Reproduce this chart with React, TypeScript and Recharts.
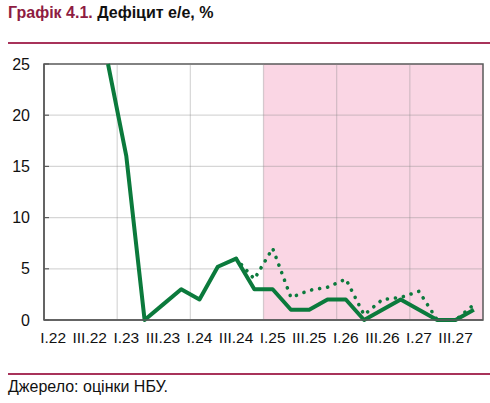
import { LineChart, Line, XAxis, YAxis, ReferenceArea, ReferenceLine } from "recharts";

// quarters I.22 .. IV.27
const quarters = [
  "I.22", "II.22", "III.22", "IV.22",
  "I.23", "II.23", "III.23", "IV.23",
  "I.24", "II.24", "III.24", "IV.24",
  "I.25", "II.25", "III.25", "IV.25",
  "I.26", "II.26", "III.26", "IV.26",
  "I.27", "II.27", "III.27", "IV.27",
];

const baseline = [null, null, null, 25, 16, 0, 1.5, 3, 2, 5.2, 6, 3, 3, 1, 1, 2, 2, 0, 1, 2, 1, 0, 0, 1];
const scenario = [null, null, null, null, null, null, null, null, null, null, 6, 4, 7, 2.2, 2.9, 3.2, 4, 0.5, 2, 2.2, 2.8, 0, 0, 1.5];

const yTicks = [0, 5, 10, 15, 20, 25];
const gridValues = [5, 10, 15, 20];
const yearStarts = [4, 8, 12, 16, 20];
const forecastFrom = 12;

const data = quarters.map((q, i) => ({ x: i + 0.5, q, base: baseline[i], alt: scenario[i] }));
const labelTicks = data.filter((_, i) => i % 2 === 0).map((d) => d.x);

const font = "'Liberation Sans', Arial, sans-serif";
const axisColor = "#5a5a5a";
const green = "#0b7a3c";
const crimson = "#a8325a";

export default function App() {
  return (
    <div style={{ position: "absolute", left: 0, top: 0, width: 490, height: 403, background: "#fff", fontFamily: font }}>
      <LineChart width={490} height={345} data={data} margin={{ top: 64, right: 7, left: 0, bottom: 0 }}>
        <ReferenceArea x1={forecastFrom} x2={quarters.length} y1={0} y2={25} fill="#fad6e4" fillOpacity={1} stroke="none" />
        {gridValues.map((v) => (
          <ReferenceLine key={`h${v}`} y={v} stroke="#8a8a8a" strokeOpacity={0.35} strokeWidth={1.2} />
        ))}
        {yearStarts.map((v) => (
          <ReferenceLine key={`v${v}`} x={v} stroke="#8a8a8a" strokeOpacity={0.35} strokeWidth={1.2} />
        ))}
        <ReferenceArea x1={0} x2={quarters.length} y1={0} y2={25} fill="none" stroke={axisColor} strokeWidth={1.5} />
        <XAxis
          dataKey="x"
          type="number"
          domain={[0, quarters.length]}
          ticks={labelTicks}
          interval={0}
          tickFormatter={(v: number) => quarters[Math.floor(v)]}
          tickLine={false}
          axisLine={{ stroke: axisColor, strokeWidth: 1.5 }}
          tick={{ fontSize: 15.5, fill: "#111", fontFamily: font }}
          tickMargin={6}
          height={25}
        />
        <YAxis
          domain={[0, 25]}
          ticks={yTicks}
          interval={0}
          width={44}
          tickSize={-5}
          tickMargin={19}
          tickLine={{ stroke: axisColor, strokeWidth: 1.2 }}
          axisLine={{ stroke: axisColor, strokeWidth: 1.5 }}
          tick={{ fontSize: 16, fill: "#111", fontFamily: font }}
        />
        <Line
          dataKey="alt"
          stroke={green}
          strokeWidth={3.6}
          strokeDasharray="0.1 8"
          strokeLinecap="round"
          dot={false}
          connectNulls={false}
          isAnimationActive={false}
        />
        <Line
          dataKey="base"
          stroke={green}
          strokeWidth={4}
          strokeLinejoin="round"
          dot={false}
          isAnimationActive={false}
        />
      </LineChart>

      <div style={{ position: "absolute", left: 8, top: 4, fontSize: 16, fontWeight: "bold", whiteSpace: "nowrap" }}>
        <span style={{ color: "#8e1c42" }}>Графік 4.1.</span>
        <span style={{ color: "#111" }}> Дефіцит е/е, %</span>
      </div>
      <div style={{ position: "absolute", left: 8, right: 0, top: 42, height: 2, background: crimson }} />
      <div style={{ position: "absolute", left: 8, right: 0, top: 373, height: 1.5, background: crimson }} />
      <div style={{ position: "absolute", left: 8, top: 378, fontSize: 16, color: "#111", whiteSpace: "nowrap" }}>
        Джерело: оцінки НБУ.
      </div>
    </div>
  );
}
